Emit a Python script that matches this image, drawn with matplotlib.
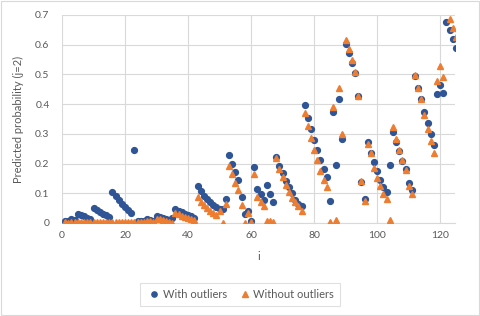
import numpy as np
import matplotlib
matplotlib.use("Agg")
import matplotlib.pyplot as plt
from matplotlib.patches import Rectangle

plt.rcParams["font.family"] = ["Lato", "DejaVu Sans"]

# observation index i = 1..125
obs = np.arange(1, 126)

with_outliers = [
    0.008, 0.006, 0.014, 0.010, 0.031, 0.026, 0.022, 0.018, 0.014, 0.049,
    0.043, 0.037, 0.031, 0.026, 0.021, 0.106, 0.090, 0.077, 0.065, 0.054,
    0.044, 0.035, 0.245, 0.007, 0.008, 0.007, 0.012, 0.010, 0.008, 0.022,
    0.020, 0.017, 0.014, 0.010, 0.018, 0.047, 0.041, 0.036, 0.031, 0.026,
    0.022, 0.018, 0.124, 0.107, 0.092, 0.080, 0.070, 0.061, 0.053, 0.046,
    0.047, 0.082, 0.230, 0.200, 0.172, 0.146, 0.088, 0.030, 0.041, 0.007,
    0.190, 0.115, 0.096, 0.079, 0.127, 0.096, 0.070, 0.222, 0.192, 0.167,
    0.142, 0.120, 0.102, 0.078, 0.064, 0.058, 0.396, 0.354, 0.317, 0.279,
    0.245, 0.211, 0.182, 0.155, 0.075, 0.373, 0.194, 0.416, 0.284, 0.601,
    0.571, 0.537, 0.504, 0.427, 0.138, 0.081, 0.272, 0.236, 0.204, 0.174,
    0.146, 0.121, 0.103, 0.194, 0.306, 0.272, 0.242, 0.210, 0.182, 0.133,
    0.112, 0.494, 0.455, 0.416, 0.374, 0.337, 0.298, 0.261, 0.433, 0.466,
    0.436, 0.677, 0.650, 0.620, 0.590,
]

without_outliers = [
    0.002, 0.001, 0.003, 0.002, 0.004, 0.003, 0.003, 0.002, 0.002, 0.005,
    0.004, 0.004, 0.003, 0.003, 0.002, 0.005, 0.004, 0.004, 0.003, 0.003,
    0.002, 0.002, 0.004, 0.003, 0.005, 0.004, 0.008, 0.006, 0.004, 0.012,
    0.013, 0.010, 0.008, 0.005, 0.000, 0.035, 0.030, 0.025, 0.020, 0.016,
    0.012, 0.009, 0.086, 0.072, 0.060, 0.050, 0.041, 0.034, 0.027, 0.040,
    0.000, 0.065, 0.192, 0.164, 0.136, 0.111, 0.061, 0.000, 0.033, 0.003,
    0.164, 0.087, 0.069, 0.056, 0.006, 0.006, 0.002, 0.219, 0.183, 0.156,
    0.128, 0.106, 0.083, 0.069, 0.056, 0.042, 0.371, 0.328, 0.287, 0.245,
    0.211, 0.176, 0.146, 0.120, 0.002, 0.391, 0.009, 0.453, 0.300, 0.616,
    0.584, 0.547, 0.509, 0.429, 0.140, 0.073, 0.267, 0.236, 0.185, 0.152,
    0.126, 0.099, 0.081, 0.009, 0.322, 0.283, 0.244, 0.211, 0.177, 0.123,
    0.099, 0.497, 0.455, 0.416, 0.363, 0.318, 0.275, 0.236, 0.478, 0.530,
    0.492, np.nan, 0.686, 0.657, 0.627,
]

x_ticks = [0, 20, 40, 60, 80, 100, 120]
y_ticks = [0, 0.1, 0.2, 0.3, 0.4, 0.5, 0.6, 0.7]
y_tick_labels = ["0", "0.1", "0.2", "0.3", "0.4", "0.5", "0.6", "0.7"]

BLUE = "#2F5597"
ORANGE = "#ED7D31"
TEXT = "#595959"
GRID = "#D9D9D9"

fig = plt.figure(figsize=(4.8, 3.16), dpi=100)
ax = fig.add_axes([62 / 480, 1 - 223 / 316, (455 - 62) / 480, (223 - 15) / 316])

ax.plot(obs, with_outliers, linestyle="none", marker="o", markersize=4.2,
        color=BLUE, label="With outliers", zorder=3)
ax.plot(obs, without_outliers, linestyle="none", marker="^", markersize=4.6,
        color=ORANGE, label="Without outliers", zorder=4)

ax.set_xlim(0, 124.7)
ax.set_ylim(0, 0.7)
ax.set_xticks(x_ticks)
ax.set_yticks(y_ticks)
ax.set_yticklabels(y_tick_labels)
ax.tick_params(length=0, labelsize=7.5, labelcolor=TEXT)
ax.tick_params(axis="y", pad=9)
ax.tick_params(axis="x", pad=6)
ax.grid(True, color=GRID, linewidth=0.8)
ax.set_axisbelow(True)
for side in ["top", "right", "left"]:
    ax.spines[side].set_visible(False)
ax.spines["bottom"].set_color(GRID)
ax.spines["bottom"].set_linewidth(0.8)

ax.set_xlabel("i", fontsize=8, color=TEXT, labelpad=8)
ax.set_ylabel("Predicted probability (j=2)", fontsize=8, color=TEXT, labelpad=8)

leg = fig.legend(loc="center", bbox_to_anchor=(240 / 480, 1 - 294.5 / 316), ncol=2,
                 fontsize=8, frameon=True, fancybox=False, handletextpad=0.0,
                 handlelength=1.5, columnspacing=0.9, markerscale=0.9, borderpad=0.5)
leg.get_frame().set_edgecolor(GRID)
leg.get_frame().set_linewidth(0.8)
for t in leg.get_texts():
    t.set_color(TEXT)

fig.patches.append(Rectangle((0.002, 0.003), 0.995, 0.993, transform=fig.transFigure,
                             fill=False, edgecolor=GRID, linewidth=0.8))

fig.savefig("out.png", dpi=100)
